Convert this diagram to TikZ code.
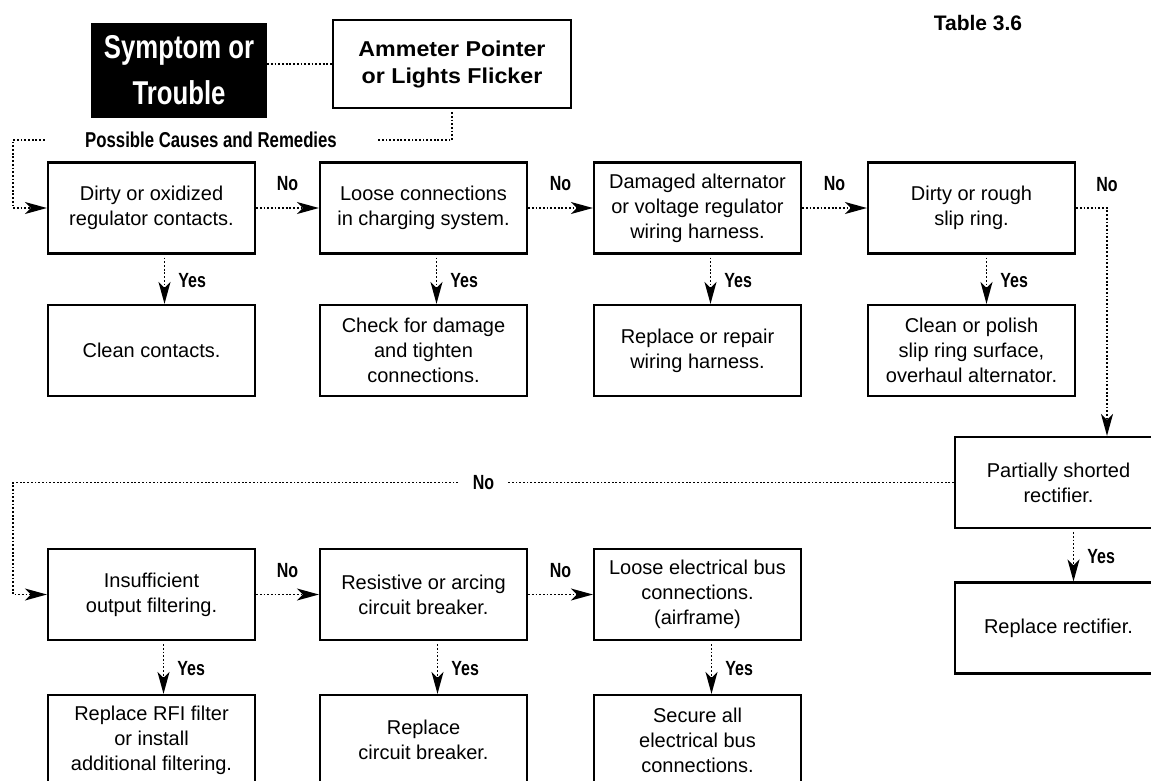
\documentclass[tikz,border=0pt]{standalone}
\usepackage{fontspec}
\setmainfont{Liberation Sans}
\newfontfamily\condfont[FakeStretch=0.78]{Liberation Sans}
\newfontfamily\widefont[FakeStretch=1.08]{Liberation Sans}
\usetikzlibrary{positioning, calc, arrows.meta}

\tikzset{
  box/.style={draw, line width=2.2pt, minimum width=207pt, minimum height=91pt, align=center, inner sep=2pt, font=\fontsize{20}{25}\selectfont},
  dotline/.style={line width=1.8pt, dash pattern=on 1.8pt off 1.9pt},
  arr/.style={dotline, -{Stealth[length=22pt,width=12pt,inset=6pt]}},
  lbl/.style={inner sep=1pt, font=\condfont\bfseries\fontsize{20.5}{20.5}\selectfont},
}

\begin{document}
\begin{tikzpicture}[x=1pt, y=-1pt]
    \useasboundingbox (0,0) rectangle (1151,780);
    \clip (0,0) rectangle (1151,780);

    % 見出し
    \node[fill=black, text=white, minimum width=176pt, minimum height=95pt, align=center, font=\condfont\bfseries\fontsize{33}{46}\selectfont] (sym) at (179,70.5) {Symptom or\\Trouble};
    \node[draw, line width=2.2pt, minimum width=238pt, minimum height=88pt, align=center, font=\widefont\bfseries\fontsize{21.5}{27}\selectfont] (am) at (452,64) {Ammeter Pointer\\or Lights Flicker};
    \node[font=\bfseries\fontsize{21}{21}\selectfont] (tab) at (978,23) {Table 3.6};
    \node[font=\condfont\bfseries\fontsize{21.5}{21.5}\selectfont] (pcr) at (211,140) {Possible Causes and Remedies};

    % 1段目
    \node[box] (d1) at (151.5,208) {Dirty or oxidized\\regulator contacts.};
    \node[box] (d2) at (423.5,208) {Loose connections\\in charging system.};
    \node[box] (d3) at (697.5,208) {Damaged alternator\\or voltage regulator\\wiring harness.};
    \node[box] (d4) at (971.5,208) {Dirty or rough\\slip ring.};

    \node[box] (f1) at (151.5,350.5) {Clean contacts.};
    \node[box] (f2) at (423.5,350.5) {Check for damage\\and tighten\\connections.};
    \node[box] (f3) at (697.5,350.5) {Replace or repair\\wiring harness.};
    \node[box] (f4) at (971.5,350.5) {Clean or polish\\slip ring surface,\\overhaul alternator.};

    % 右端
    \node[box] (d5) at (1058.5,482.5) {Partially shorted\\rectifier.};
    \node[box] (f5) at (1058.5,628) {Replace rectifier.};

    % 2段目
    \node[box] (d6) at (151.5,594.5) {Insufficient\\output filtering.};
    \node[box] (d7) at (423.5,594.5) {Resistive or arcing\\circuit breaker.};
    \node[box] (d8) at (697.5,594.5) {Loose electrical bus\\connections.\\(airframe)};

    \node[box, minimum height=90pt] (f6) at (151.5,740) {Replace RFI filter\\or install\\additional filtering.};
    \node[box, minimum height=90pt] (f7) at (423.5,740) {Replace\\circuit breaker.};
    \node[box, minimum height=90pt] (f8) at (697.5,740) {Secure all\\electrical bus\\connections.};

    % 点線
    \coordinate (c0) at (13,140);
    \coordinate (c1) at (1107,208);
    \coordinate (c2) at (13,482.5);
    \draw[dotline] (sym.east |- am.west) -- (am.west);
    \draw[dotline] ([yshift=-3pt]am.south) |- ([xshift=37pt]pcr.east);
    \draw[arr] ([xshift=-37pt]pcr.west) -- (c0) |- (d1.west);

    % No
    \draw[arr] (d1) -- (d2) node[lbl, midway, above=15pt] (n1) {No};
    \draw[arr] (d2) -- (d3) node[lbl, midway, above=15pt] (n2) {No};
    \draw[arr] (d3) -- (d4) node[lbl, midway, above=15pt] (n3) {No};
    \draw[arr] (d4.east) -- (c1) -- (c1 |- d5.north);
    \node[lbl, above=15pt] (n4) at (c1) {No};
    \draw[arr] (d5.west) -- (c2) node[lbl, midway, fill=white, inner xsep=14pt] (n5) {No} |- (d6.west);
    \draw[arr] (d6) -- (d7) node[lbl, midway, above=15pt] (n6) {No};
    \draw[arr] (d7) -- (d8) node[lbl, midway, above=15pt] (n7) {No};

    % Yes
    \draw[arr] ([xshift=13pt,yshift=-3pt]d1.south) -- ([xshift=13pt]f1.north) node[lbl, midway, right=12pt] (y1) {Yes};
    \draw[arr] ([xshift=13pt,yshift=-3pt]d2.south) -- ([xshift=13pt]f2.north) node[lbl, midway, right=12pt] (y2) {Yes};
    \draw[arr] ([xshift=13pt,yshift=-3pt]d3.south) -- ([xshift=13pt]f3.north) node[lbl, midway, right=12pt] (y3) {Yes};
    \draw[arr] ([xshift=15pt,yshift=-3pt]d4.south) -- ([xshift=15pt]f4.north) node[lbl, midway, right=12pt] (y4) {Yes};
    \draw[arr] ([xshift=15pt,yshift=-3pt]d5.south) -- ([xshift=15pt]f5.north) node[lbl, midway, right=12pt] (y5) {Yes};
    \draw[arr] ([xshift=12pt,yshift=-3pt]d6.south) -- ([xshift=12pt]f6.north) node[lbl, midway, right=12pt] (y6) {Yes};
    \draw[arr] ([xshift=14pt,yshift=-3pt]d7.south) -- ([xshift=14pt]f7.north) node[lbl, midway, right=12pt] (y7) {Yes};
    \draw[arr] ([xshift=14pt,yshift=-3pt]d8.south) -- ([xshift=14pt]f8.north) node[lbl, midway, right=12pt] (y8) {Yes};

\end{tikzpicture}
\end{document}
